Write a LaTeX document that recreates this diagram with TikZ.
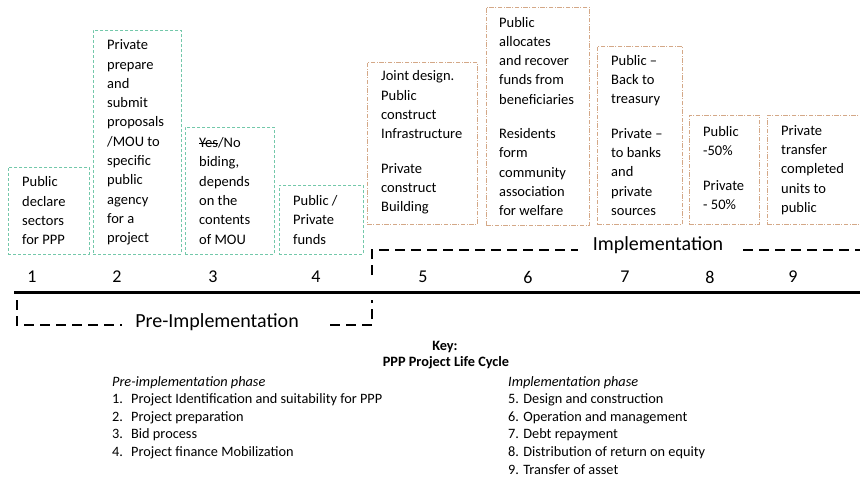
\documentclass[tikz,border=0pt]{standalone}
\usepackage{fontspec}
\setmainfont{Carlito}
\newcommand\mystrike[1]{\setbox0\hbox{#1}\rlap{\rule[0.3em]{\wd0}{0.8pt}}\box0}
\definecolor{grn}{RGB}{115,200,170}
\definecolor{org}{RGB}{212,168,135}
\begin{document}
\begin{tikzpicture}[x=1pt,y=-1pt,
 gbox/.style={draw=grn, line width=0.9pt, dash pattern=on 3pt off 2pt, anchor=north west, inner sep=0pt},
 obox/.style={draw=org, line width=0.9pt, dash pattern=on 4.5pt off 1.5pt on 1pt off 1.5pt, anchor=north west, inner sep=0pt},
 btext/.style={anchor=west, inner sep=0pt, align=left, font=\fontsize{14.5}{19.3}\selectfont},
 num/.style={font=\fontsize{18}{20}\selectfont, inner sep=0pt},
 bracket/.style={line width=2.6pt, dash pattern=on 10pt off 6pt},
 phase/.style={font=\fontsize{20}{22}\selectfont, inner sep=0pt},
 keyt/.style={font=\fontsize{14.3}{16}\selectfont\bfseries, inner sep=0pt},
 keyl/.style={font=\fontsize{14.3}{17}\selectfont, anchor=west, inner sep=0pt}
]
\useasboundingbox (0,0) rectangle (860,480);
\clip (0,0) rectangle (860,480);
% boxes
\node[gbox, minimum width=81pt, minimum height=87pt] (b1) at (8,167) {};
\node[gbox, minimum width=88pt, minimum height=224pt] (b2) at (93,30) {};
\node[gbox, minimum width=89pt, minimum height=127pt] (b3) at (185,127) {};
\node[gbox, minimum width=84pt, minimum height=69pt] (b4) at (279,185) {};
\node[obox, minimum width=110pt, minimum height=162pt] (b5) at (367,62) {};
\node[obox, minimum width=103pt, minimum height=218pt] (b6) at (486,7) {};
\node[obox, minimum width=85pt, minimum height=178pt] (b7) at (597,46) {};
\node[obox, minimum width=70pt, minimum height=109pt] (b8) at (689,115) {};
\node[obox, minimum width=113pt, minimum height=109pt] (b9) at (767,115) {};
% box texts
\node[btext] (t1) at ([xshift=14pt]b1.west) {Public\\declare\\sectors\\for PPP};
\node[btext] (t2) at ([xshift=14pt]b2.west) {Private\\prepare\\and\\submit\\proposals\\/MOU to\\specific\\public\\agency\\for a\\project};
\node[btext] (t3) at ([xshift=14pt]b3.west) {\mystrike{Yes}/No\\biding,\\depends\\on the\\contents\\of MOU};
\node[btext] (t4) at ([xshift=14pt]b4.west) {Public /\\Private\\funds};
\node[btext] (t5) at ([xshift=14pt,yshift=1pt]b5.west) {Joint design.\\Public\\construct\\Infrastructure\\[15pt]Private\\construct\\Building};
\node[btext] (t6) at ([xshift=13pt]b6.west) {Public\\allocates\\and recover\\funds from\\beneficiaries\\[15pt]Residents\\form\\community\\association\\for welfare};
\node[btext] (t7) at ([xshift=14pt]b7.west) {Public --\\Back to\\treasury\\[15pt]Private --\\to banks\\and\\private\\sources};
\node[btext] (t8) at ([xshift=14pt,yshift=2pt]b8.west) {Public\\-50\%\\[15pt]Private\\- 50\%};
\node[btext] (t9) at ([xshift=14pt]b9.west) {Private\\transfer\\completed\\units to\\public};
% numbers
\node[num] (n1) at (32,277) {1};
\node[num] (n2) at (117,277) {2};
\node[num] (n3) at (213,277) {3};
\node[num] (n4) at (316,277) {4};
\node[num] (n5) at (423,277) {5};
\node[num] (n6) at (528,277) {6};
\node[num] (n7) at (625,277) {7};
\node[num] (n8) at (710,277) {8};
\node[num] (n9) at (793,277) {9};
% axis
\coordinate (a0) at (14,292);
\coordinate (a1) at (860,292);
\draw[line width=3pt] (a0) -- (a1);
% implementation bracket
\node[phase] (imp) at (658,245) {Implementation};
\coordinate (i0) at (372,275);
\coordinate (i1) at (372,250);
\coordinate (i2) at (578,250);
\coordinate (i3) at (743,250);
\coordinate (i4) at (860,250);
\draw[bracket] (i0) -- (i1) -- (i2);
\draw[bracket] (i3) -- (i4);
% pre-implementation bracket
\node[phase] (pre) at (217,322) {Pre-Implementation};
\coordinate (p0) at (17,300);
\coordinate (p1) at (17,325);
\coordinate (p2) at (122,325);
\coordinate (p3) at (330,325);
\coordinate (p4) at (372,325);
\coordinate (p5) at (372,300);
\draw[bracket] (p0) -- (p1) -- (p2);
\draw[bracket] (p3) -- (p4) -- (p5);
% key
\node[keyt] (key) at (445,347) {Key:};
\node[keyt] (kt) at (446,363) {PPP Project Life Cycle};
\node[keyl] (kpre) at (112,383) {\itshape Pre-implementation phase};
\node[keyl] (k1) at (112,400) {\makebox[19pt][l]{1.}Project Identification and suitability for PPP};
\node[keyl] (k2) at (112,417.5) {\makebox[19pt][l]{2.}Project preparation};
\node[keyl] (k3) at (112,435) {\makebox[19pt][l]{3.}Bid process};
\node[keyl] (k4) at (112,452.5) {\makebox[19pt][l]{4.}Project finance Mobilization};
\node[keyl] (kimp) at (508,383) {\itshape Implementation phase};
\node[keyl] (k5) at (508,400) {5. Design and construction};
\node[keyl] (k6) at (508,417.5) {6. Operation and management};
\node[keyl] (k7) at (508,435) {7. Debt repayment};
\node[keyl] (k8) at (508,452.5) {8. Distribution of return on equity};
\node[keyl] (k9) at (508,470) {9. Transfer of asset};
\end{tikzpicture}
\end{document}
